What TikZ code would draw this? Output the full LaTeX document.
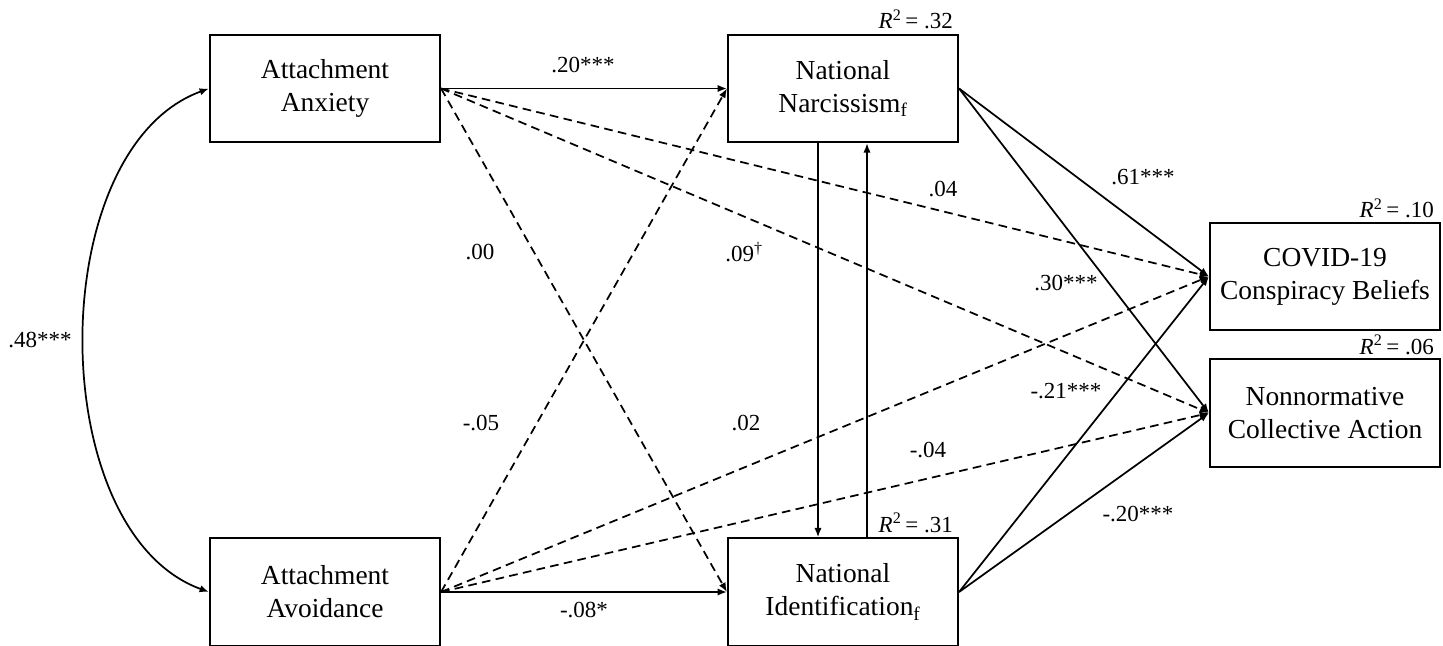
\documentclass[tikz,border=0pt]{standalone}
\usepackage{fontspec}
\setmainfont{Liberation Serif}
\usetikzlibrary{arrows.meta,calc}
\tikzset{
  varbox/.style={draw, line width=1.6pt, minimum width=172.5pt, minimum height=80.5pt,
    align=center, inner sep=0pt, font=\fontsize{20.6}{24.75}\selectfont},
  coef/.style={font=\fontsize{17.25}{20}\selectfont, inner sep=0pt},
  rsq/.style={coef, anchor=base east},
  effect/.style={line width=1.3pt, -{Latex[length=7pt,width=5.5pt]}},
  nseffect/.style={effect, dash pattern=on 6.5pt off 4pt},
}
\begin{document}
\begin{tikzpicture}[x=0.75pt, y=0.75pt]
        \useasboundingbox (0,0) rectangle (1443,-646);
        \node[varbox] (anx) at (325,-88.5) {Attachment\\Anxiety};
        \node[varbox] (avo) at (325,-592) {Attachment\\Avoidance};
        \node[varbox] (nar) at (843,-88.5) {National\\Narcissism\textsubscript{f}};
        \node[varbox] (ide) at (843,-592) {National\\Identification\textsubscript{f}};
        \node[varbox] (cov) at (1325,-276.5) {COVID-19\\Conspiracy Beliefs};
        \node[varbox] (non) at (1325,-413) {Nonnormative\\Collective Action};
        \node[rsq] (r2nar) at ($(nar.north east)+(-6,5)$) {\textit{R}\textsuperscript{2}\,= .32};
        \node[rsq] (r2ide) at ($(ide.north east)+(-6,5)$) {\textit{R}\textsuperscript{2}\,= .31};
        \node[rsq] (r2cov) at ($(cov.north east)+(-7,4)$) {\textit{R}\textsuperscript{2}\,= .10};
        \node[rsq] (r2non) at ($(non.north east)+(-7,4)$) {\textit{R}\textsuperscript{2}\,= .06};
        \draw[line width=1.3pt, {Latex[length=7pt,width=5.5pt]}-{Latex[length=7pt,width=5.5pt]}]
          (anx.west) to[out=200, in=160, looseness=0.9] (avo.west);
        \draw[effect] (anx.east) -- (nar.west);
        \draw[effect] (avo.east) -- (ide.west);
        \draw[nseffect] (anx.east) -- (ide.west);
        \draw[nseffect] (anx.east) -- (cov.west);
        \draw[nseffect] (anx.east) -- (non.west);
        \draw[nseffect] (avo.east) -- (nar.west);
        \draw[nseffect] (avo.east) -- (cov.west);
        \draw[nseffect] (avo.east) -- (non.west);
        \draw[effect] ($(nar.south)+(-25,0)$) -- ($(ide.north)+(-25,0)$);
        \draw[effect] ($(ide.north)+(24,0)$) -- ($(nar.south)+(24,0)$);
        \draw[effect] (nar.east) -- (cov.west);
        \draw[effect] (nar.east) -- (non.west);
        \draw[effect] (ide.east) -- (cov.west);
        \draw[effect] (ide.east) -- (non.west);
        \node[coef] (c48) at (40,-340) {.48***};
        \node[coef] (c20) at (583,-65) {.20***};
        \node[coef] (c00) at (480,-252) {.00};
        \node[coef] (c05) at (481,-423) {-.05};
        \node[coef] (c08) at (584,-610) {-.08*};
        \node[coef] (c09) at (744,-252) {.09\textsuperscript{\large †}};
        \node[coef] (c02) at (746,-423) {.02};
        \node[coef] (c04) at (943,-189) {.04};
        \node[coef] (cm04) at (928,-450) {-.04};
        \node[coef] (c61) at (1143,-177) {.61***};
        \node[coef] (c30) at (1066,-283) {.30***};
        \node[coef] (c21) at (1066,-391) {-.21***};
        \node[coef] (cm20) at (1138,-514) {-.20***};
\end{tikzpicture}
\end{document}
